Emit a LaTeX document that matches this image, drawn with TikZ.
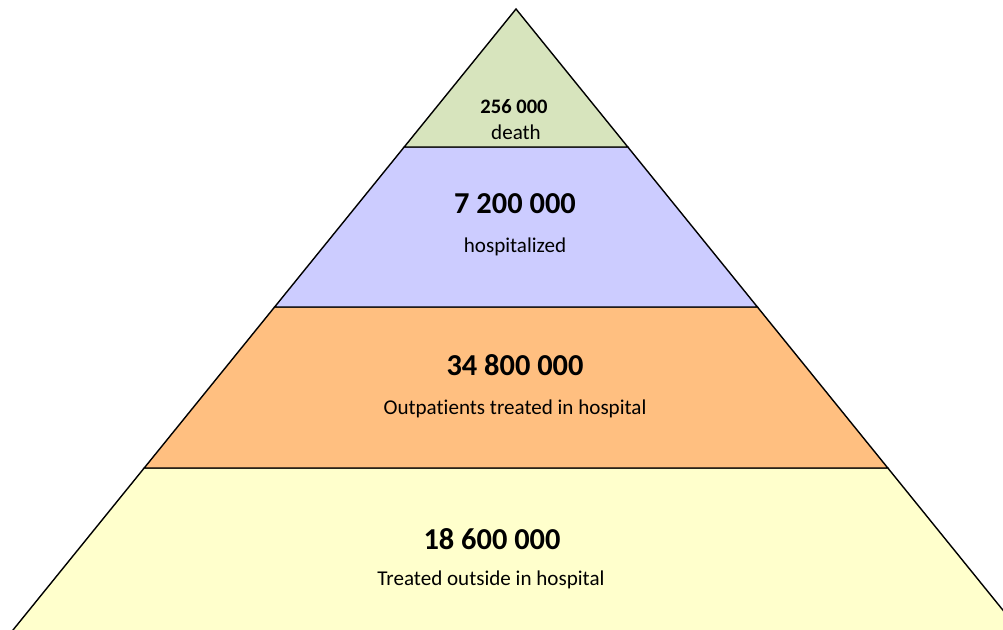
\documentclass[tikz,border=0pt]{standalone}
\usepackage{fontspec}
\setmainfont{Carlito}[Ligatures={NoCommon}]
\usetikzlibrary{positioning}

\definecolor{deathgreen}{HTML}{D7E4BD}
\definecolor{hospblue}{HTML}{CCCCFF}
\definecolor{outorange}{HTML}{FFBF80}
\definecolor{treatyellow}{HTML}{FFFFCC}

\begin{document}
\begin{tikzpicture}
  [
  x=0.02cm, y=-0.02cm, line width=0.8pt, line join=miter,
  layer/.style={draw=black},
  count/.style={font=\fontsize{17.3}{20}\selectfont\bfseries, inner sep=0pt},
  smallcount/.style={font=\fontsize{11.7}{14}\selectfont\bfseries, inner sep=0pt},
  caption/.style={font=\fontsize{12}{14}\selectfont, inner sep=0pt},
  ]

  \useasboundingbox (0,0) rectangle (1003,629);
  \clip (0,0) rectangle (1003,629);

  % corners of the layers
  \coordinate (apex) at (516,9);
  \coordinate (l1) at (404.2,147); \coordinate (r1) at (627.8,147);
  \coordinate (l2) at (274.6,307); \coordinate (r2) at (757.4,307);
  \coordinate (l3) at (144.2,468); \coordinate (r3) at (887.8,468);
  \coordinate (l4) at (-3.2,650);  \coordinate (r4) at (1035.2,650);

  \filldraw[layer, fill=treatyellow] (l3) -- (r3) -- (r4) -- (l4) -- cycle;
  \filldraw[layer, fill=outorange] (l2) -- (r2) -- (r3) -- (l3) -- cycle;
  \filldraw[layer, fill=hospblue] (l1) -- (r1) -- (r2) -- (l2) -- cycle;
  \filldraw[layer, fill=deathgreen] (apex) -- (r1) -- (l1) -- cycle;

  \node[smallcount] (deathnum) at (514,107) {256 000};
  \node[caption] (deathtxt) at (516,132) {death};

  \node[count] (hospnum) at (515,204) {7 200 000};
  \node[caption] (hosptxt) at (515,247) {hospitalized};

  \node[count] (outnum) at (515,365) {34 800 000};
  \node[caption] (outtxt) at (515,409) {Outpatients treated in hospital};

  \node[count] (treatnum) at (492,539) {18 600 000};
  \node[caption] (treattxt) at (491,580) {Treated outside in hospital};
\end{tikzpicture}
\end{document}
